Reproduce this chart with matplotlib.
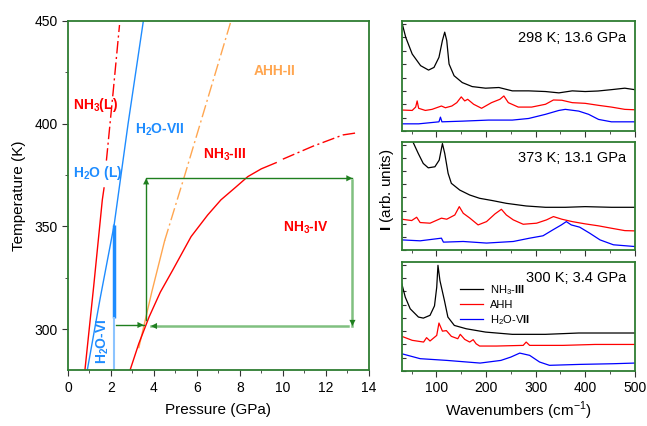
import matplotlib
matplotlib.use("Agg")
import matplotlib.pyplot as plt
from matplotlib.ticker import MultipleLocator

plt.rcParams['font.family'] = ['Liberation Sans', 'DejaVu Sans']
plt.rcParams['mathtext.fontset'] = 'custom'
plt.rcParams['mathtext.rm'] = 'Liberation Sans'
plt.rcParams['mathtext.bf'] = 'Liberation Sans:bold'

# ---- phase diagram (P in GPa, T in K) ----
nh3_melt_P = [0.79, 1.20, 1.60, 1.68]
nh3_melt_T = [280, 321, 362.9, 368.7]
nh3_melt_ext_P = [1.79, 2.10, 2.40]
nh3_melt_ext_T = [382, 415, 448]
h2o_melt_P = [0.90, 1.50, 2.15]
h2o_melt_T = [280, 315, 350.7]
h2o_vii_P = [2.15, 2.80, 3.51]
h2o_vii_T = [350.7, 400, 450]
h2o_vi_P = [2.15, 2.15]
h2o_vi_T = [350.7, 305.3]
h2o_vi_low_T = [305.3, 280]
ahh_P = [3.30, 3.90, 4.50]
ahh_T = [291, 318, 343]
ahh_ext_P = [4.50, 5.41, 6.50, 7.56]
ahh_ext_T = [343, 374, 412, 449]
nh3_34_P = [2.89, 3.30, 3.78, 4.30, 4.87, 5.73, 6.50, 7.12, 7.80, 8.37, 9.00, 9.69]
nh3_34_T = [280, 293, 306, 318, 328.6, 345, 355.5, 362.9, 369, 374.2, 378, 381]
nh3_34_ext_P = [10.0, 11.4, 12.8, 13.5]
nh3_34_ext_T = [382.7, 389, 394.5, 395.6]
# experimental P-T path
step1_P = [2.22, 3.52]
step1_T = [302, 302]
step2_P = [3.64, 3.64, 13.24]
step2_T = [304.5, 373.4, 373.4]
step3_P = [13.24, 13.24]
step3_T = [372.6, 301.5]
step4_P = [13.03, 3.86]
step4_T = [301.5, 301.5]

# ---- Raman spectra (wavenumber cm-1, intensity arb.) ----
top_nh3_wn = [30, 38, 51, 68, 84, 95, 105, 112, 116.6, 120.7, 125.4, 135.5, 152, 172, 199,
              226, 253, 286, 320, 347, 374, 400, 426, 453, 480, 500]
top_nh3_I = [8.14, 7.0, 5.76, 4.89, 4.56, 4.76, 5.51, 6.77, 7.39, 6.77, 5.01, 4.14, 3.63,
             3.33, 3.21, 3.26, 3.01, 3.01, 2.96, 2.86, 3.01, 2.96, 3.0, 3.1, 3.21, 3.1]
top_ahh_wn = [30, 51, 58, 61, 64, 77.5, 91, 110, 118, 131, 141, 150, 157, 163, 175, 191,
              211, 228, 236, 245, 265, 292, 320, 336, 353, 374, 400, 427, 453, 480, 500]
top_ahh_I = [1.58, 1.55, 1.80, 2.26, 1.71, 1.55, 1.63, 1.88, 1.75, 1.88, 2.13, 2.56, 2.26,
             2.38, 2.01, 1.71, 2.13, 2.38, 2.63, 2.13, 1.80, 1.80, 2.01, 2.33, 2.31, 2.13,
             2.08, 1.93, 1.80, 1.63, 1.60]
top_h2o_wn = [30, 64, 105, 108, 111, 152, 205, 253, 286, 320, 347, 360, 387, 407, 427, 453, 500]
top_h2o_I = [0.55, 0.55, 0.70, 1.05, 0.70, 0.75, 0.83, 0.83, 0.95, 1.26, 1.55, 1.63, 1.50,
             1.26, 0.88, 0.70, 0.70]

mid_nh3_wn = [30, 53.4, 63.3, 73.3, 83.4, 96.8, 105.5, 112, 116.7, 123.5, 130, 147, 167,
              187, 214, 241, 281, 320, 360, 400, 453, 500]
mid_nh3_I = [9.8, 8.12, 7.32, 6.57, 6.24, 6.32, 6.82, 8.07, 7.32, 5.82, 5.07, 4.56, 4.19,
             3.94, 3.76, 3.56, 3.36, 3.26, 3.26, 3.31, 3.26, 3.26]
mid_ahh_wn = [30, 50, 60, 67, 87, 110, 120.7, 137, 146, 154, 167.5, 184, 201, 218, 231, 241,
              255, 275, 302, 322, 336, 353, 374, 400, 427, 453, 480, 500]
mid_ahh_I = [2.36, 2.26, 2.51, 2.11, 2.06, 2.44, 2.36, 2.68, 3.31, 2.81, 2.44, 1.93, 2.18,
             2.76, 3.11, 2.68, 2.31, 1.98, 2.06, 2.31, 2.56, 2.36, 2.18, 2.01, 1.86, 1.68,
             1.50, 1.48]
mid_h2o_wn = [30, 67, 110, 114, 154, 201, 255, 288, 315, 335, 352, 362, 372, 389, 409, 430,
              457, 500]
mid_h2o_I = [0.80, 0.73, 0.93, 0.63, 0.68, 0.56, 0.68, 0.93, 1.11, 1.56, 1.93, 2.18, 1.93,
             1.76, 1.31, 0.80, 0.43, 0.30]

bot_nh3_wn = [30, 37, 47, 63.6, 73.5, 87, 96, 100.5, 103, 107, 116, 123, 136, 160, 199, 253,
              320, 387, 453, 500]
bot_nh3_I = [6.57, 5.56, 4.68, 4.06, 3.98, 4.19, 4.9, 6.3, 7.95, 6.8, 5.31, 4.06, 3.43,
             3.18, 2.93, 2.76, 2.76, 2.86, 2.86, 2.86]
bot_ahh_wn = [30, 51, 74, 80, 87, 100.5, 105, 112, 120, 130, 143, 148, 157, 167, 174, 180,
              187, 221, 275, 281, 288, 355, 420, 500]
bot_ahh_I = [2.61, 2.31, 2.18, 2.51, 2.26, 2.68, 3.61, 3.0, 3.04, 2.61, 2.43, 2.76, 2.38,
             2.18, 2.36, 2.05, 1.88, 1.88, 1.93, 2.18, 1.93, 1.93, 2.0, 2.0]
bot_h2o_wn = [30, 67, 121, 188, 230, 250, 268, 288, 308, 328, 389, 456, 500]
bot_h2o_I = [1.30, 0.93, 0.80, 0.60, 0.80, 1.05, 1.35, 1.18, 0.68, 0.43, 0.50, 0.55, 0.60]

panel_titles = ["298 K; 13.6 GPa", "373 K; 13.1 GPa", "300 K; 3.4 GPa"]
legend_labels = [r"NH$_3$-$\mathbf{III}$", "AHH", r"H$_2$O-V$\mathbf{II}$"]

RED = '#ff0000'
BLUE = '#1e8cff'
ORANGE = '#ffa650'
DKGREEN = '#1f7f1f'
LTGREEN = '#80c080'
FRAME = '#2e7d32'

fig = plt.figure(figsize=(6.47, 4.26), dpi=100)

# ---------------- left: phase diagram ----------------
ax = fig.add_axes([0.105, 0.131, 0.465, 0.820])
dd = (9, 2.5, 1.5, 2.5)
ax.plot(nh3_melt_P, nh3_melt_T, color=RED, lw=1)
ax.plot(nh3_melt_ext_P, nh3_melt_ext_T, color=RED, lw=1, dashes=dd)
ax.plot(h2o_melt_P, h2o_melt_T, color=BLUE, lw=1)
ax.plot(h2o_vii_P, h2o_vii_T, color=BLUE, lw=1)
ax.plot(h2o_vi_P, h2o_vi_T, color=BLUE, lw=2.5, solid_capstyle='butt')
ax.plot(h2o_vi_P, h2o_vi_low_T, color='#8cc4ff', lw=1.5)
ax.plot(ahh_P, ahh_T, color=ORANGE, lw=1)
ax.plot(ahh_ext_P, ahh_ext_T, color=ORANGE, lw=1, dashes=dd)
ax.plot(nh3_34_P, nh3_34_T, color=RED, lw=1)
ax.plot(nh3_34_ext_P, nh3_34_ext_T, color=RED, lw=1, dashes=dd)

ax.plot(step1_P, step1_T, color=DKGREEN, lw=1)
ax.plot(step2_P, step2_T, color=DKGREEN, lw=1)
ax.plot(step3_P, step3_T, color=LTGREEN, lw=1.8)
ax.plot(step4_P, step4_T, color=LTGREEN, lw=1.8)
heads = [(step1_P[-1], step1_T[-1], 1, 0), (step2_P[1], step2_T[1], 0, 1),
         (step2_P[-1], step2_T[-1], 1, 0), (step3_P[-1], step3_T[-1], 0, -1),
         (step4_P[-1], step4_T[-1], -1, 0)]
for hx, hy, dx, dy in heads:
    ax.annotate('', xy=(hx, hy), xytext=(hx - dx * 0.5, hy - dy * 4),
                arrowprops=dict(arrowstyle='-|>', color=DKGREEN, lw=0.01,
                                mutation_scale=11, shrinkA=0, shrinkB=0))

lab = dict(fontsize=10, fontweight='bold', ha='center', va='center')
ax.text(1.26, 409, r"NH$_\mathbf{3}$(L)", color=RED, **lab)
ax.text(4.29, 397, r"H$_\mathbf{2}$O-VII", color=BLUE, **lab)
ax.text(9.6, 425.7, "AHH-II", color=ORANGE, **lab)
ax.text(7.28, 385, r"NH$_\mathbf{3}$-III", color=RED, **lab)
ax.text(1.40, 376, r"H$_\mathbf{2}$O (L)", color=BLUE, **lab)
ax.text(11.09, 349.2, r"NH$_\mathbf{3}$-IV", color=RED, **lab)
ax.text(1.62, 294, r"H$_\mathbf{2}$O-VI", color=BLUE, rotation=90, **lab)

ax.set_xlim(0, 14)
ax.set_ylim(280, 450)
ax.set_xticks(range(0, 15, 2))
ax.set_yticks([300, 350, 400, 450])
ax.xaxis.set_minor_locator(MultipleLocator(1))
ax.yaxis.set_minor_locator(MultipleLocator(25))
ax.tick_params(which='major', length=4, labelsize=10, color='#333333')
ax.tick_params(which='minor', length=2.5, color='#333333')
ax.set_xlabel("Pressure (GPa)", fontsize=11, labelpad=6)
ax.set_ylabel("Temperature (K)", fontsize=11, labelpad=6)
for s in ax.spines.values():
    s.set_color(FRAME)
    s.set_linewidth(1.3)

# ---------------- right: spectra ----------------
spectra = [
    [(top_nh3_wn, top_nh3_I), (top_ahh_wn, top_ahh_I), (top_h2o_wn, top_h2o_I)],
    [(mid_nh3_wn, mid_nh3_I), (mid_ahh_wn, mid_ahh_I), (mid_h2o_wn, mid_h2o_I)],
    [(bot_nh3_wn, bot_nh3_I), (bot_ahh_wn, bot_ahh_I), (bot_h2o_wn, bot_h2o_I)],
]
boxes = [[0.621, 0.692, 0.360, 0.258],
         [0.621, 0.412, 0.360, 0.255],
         [0.621, 0.129, 0.360, 0.256]]
colors = ['black', '#ff0000', '#0000ff']
for i, (box, traces, title) in enumerate(zip(boxes, spectra, panel_titles)):
    a = fig.add_axes(box)
    for (wn, inten), c, l in zip(traces, colors, legend_labels):
        a.plot(wn, inten, color=c, lw=0.9, label=l)
    a.set_xlim(30, 500)
    a.set_ylim(0, 8.2)
    a.set_xticks([100, 200, 300, 400, 500])
    a.xaxis.set_minor_locator(MultipleLocator(50))
    a.yaxis.set_major_locator(MultipleLocator(1))
    a.tick_params(axis='y', which='major', direction='in', length=3, labelleft=False,
                  color='#333333')
    a.tick_params(axis='x', which='major', length=4, labelsize=10, color='#333333')
    a.tick_params(axis='x', which='minor', length=2.5, color='#333333')
    if i < 2:
        a.tick_params(axis='x', labelbottom=False)
    a.text(0.965, 0.85, title, transform=a.transAxes, ha='right', va='center', fontsize=10.5)
    for s in a.spines.values():
        s.set_color(FRAME)
        s.set_linewidth(1.3)
    if i == 2:
        a.set_xlabel(r"Wavenumbers (cm$^{-1}$)", fontsize=11, labelpad=3)
        a.legend(loc='upper left', bbox_to_anchor=(0.215, 0.88), frameon=False,
                 fontsize=8, handlelength=2.1, handletextpad=0.6, labelspacing=0.3,
                 borderpad=0.2)

fig.text(0.598, 0.555, r"$\mathbf{I}$ (arb. units)", rotation=90, ha='center', va='center',
         fontsize=11)

fig.savefig("out.png", dpi=100)
